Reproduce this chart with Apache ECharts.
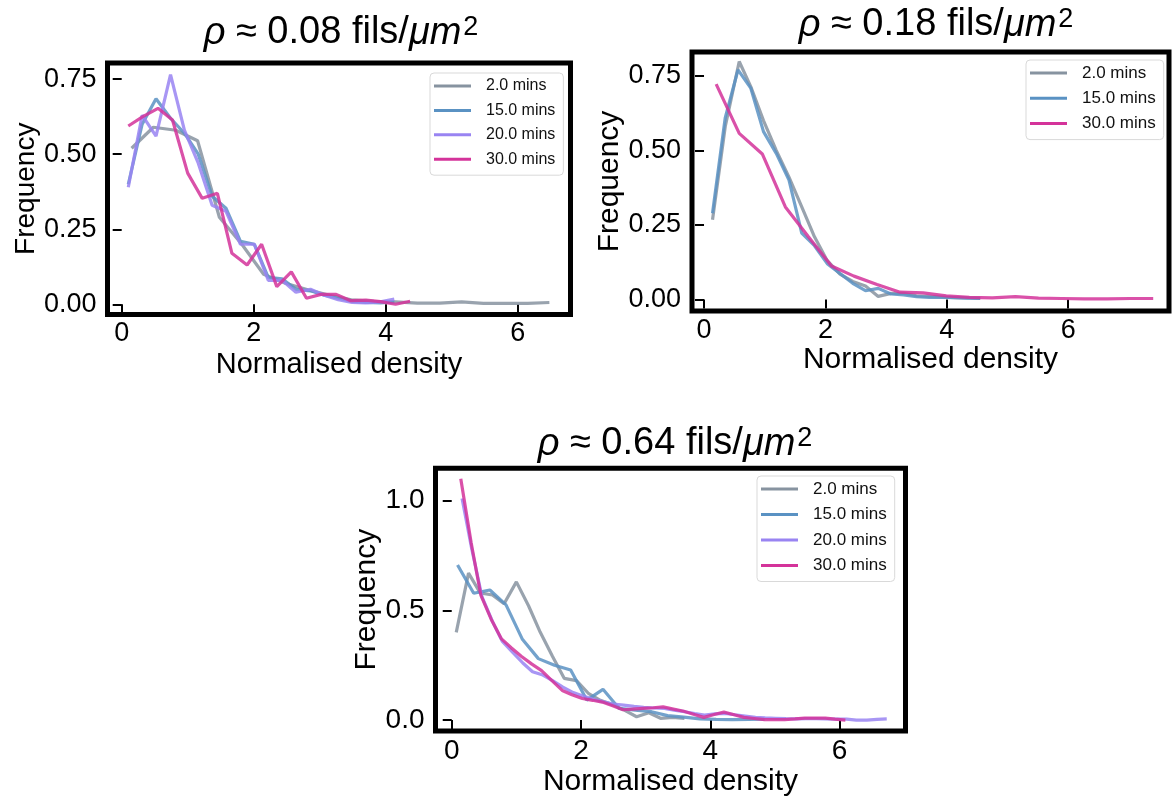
<!DOCTYPE html>
<html>
<head>
<meta charset="utf-8">
<script src="https://cdn.jsdelivr.net/npm/echarts@6/dist/echarts.min.js"></script>
<style>
  html, body { margin: 0; padding: 0; background: #fff; }
  #chart { width: 1172px; height: 805px; }
</style>
</head>
<body>
<div id="chart"></div>
<script>
// ---- Panel 1: rho ~ 0.08 fils/um^2 ----
const p1_x_2 = [0.15,0.48,0.82,1.15,1.48,1.82,2.15,2.48,2.82,3.15,3.48,3.82,4.15,4.48,4.82,5.15,5.48,5.82,6.15,6.48];
const p1_y_2 = [0.52,0.59,0.58,0.545,0.29,0.20,0.10,0.07,0.048,0.03,0.015,0.01,0.008,0.004,0.004,0.008,0.003,0.003,0.003,0.006];
const p1_x_15 = [0.10,0.31,0.52,0.74,0.95,1.16,1.37,1.58,1.80,2.01,2.22,2.43,2.64,2.86,3.07,3.28,3.49,3.70,3.92,4.13];
const p1_y_15 = [0.40,0.60,0.685,0.62,0.57,0.50,0.36,0.32,0.21,0.20,0.09,0.085,0.05,0.045,0.03,0.02,0.01,0.006,0.005,0.008];
const p1_x_20 = [0.10,0.31,0.52,0.74,0.95,1.16,1.37,1.58,1.80,2.01,2.22,2.43,2.64,2.86,3.07,3.28,3.49,3.70,3.92,4.13];
const p1_y_20 = [0.39,0.63,0.56,0.765,0.58,0.47,0.33,0.31,0.20,0.20,0.08,0.08,0.04,0.05,0.03,0.015,0.006,0.005,0.008,0.017];
const p1_x_30 = [0.10,0.32,0.55,0.77,1.00,1.22,1.45,1.67,1.90,2.12,2.35,2.57,2.80,3.02,3.25,3.47,3.70,3.92,4.15,4.37];
const p1_y_30 = [0.594,0.625,0.653,0.614,0.437,0.353,0.37,0.17,0.131,0.20,0.059,0.108,0.02,0.033,0.033,0.012,0.014,0.009,0.0,0.01];

// ---- Panel 2: rho ~ 0.18 fils/um^2 ----
const p2_x_2 = [0.14,0.35,0.58,0.77,0.98,1.19,1.40,1.61,1.82,2.03,2.24,2.45,2.66,2.87,3.08,3.29,3.50,3.71,3.92,4.13,4.34,4.55];
const p2_y_2 = [0.267,0.58,0.798,0.714,0.60,0.50,0.41,0.31,0.21,0.13,0.085,0.06,0.045,0.01,0.02,0.02,0.012,0.01,0.008,0.006,0.005,0.004];
const p2_x_15 = [0.14,0.35,0.56,0.77,0.98,1.19,1.40,1.61,1.82,2.03,2.24,2.45,2.66,2.87,3.08,3.29,3.50,3.71,3.92,4.13,4.34,4.55];
const p2_y_15 = [0.289,0.61,0.77,0.709,0.563,0.49,0.40,0.222,0.18,0.12,0.087,0.054,0.029,0.037,0.018,0.015,0.009,0.007,0.007,0.006,0.004,0.003];
const p2_x_30 = [0.20,0.58,0.96,1.34,1.72,2.10,2.47,2.85,3.23,3.61,3.99,4.37,4.75,5.13,5.51,5.89,6.26,6.64,7.02,7.40];
const p2_y_30 = [0.722,0.557,0.488,0.31,0.21,0.112,0.078,0.05,0.024,0.022,0.012,0.007,0.005,0.009,0.004,0.003,0.002,0.002,0.003,0.003];

// ---- Panel 3: rho ~ 0.64 fils/um^2 ----
const p3_x_2 = [0.07,0.26,0.44,0.63,0.81,1.00,1.19,1.37,1.56,1.74,1.93,2.12,2.30,2.49,2.67,2.86,3.05,3.23,3.42,3.60];
const p3_y_2 = [0.40,0.67,0.58,0.57,0.53,0.63,0.52,0.40,0.29,0.19,0.18,0.12,0.09,0.07,0.045,0.015,0.033,0.008,0.012,0.008];
const p3_x_15 = [0.09,0.34,0.59,0.84,1.09,1.34,1.59,1.84,2.09,2.34,2.59,2.84,3.09,3.34,3.59,3.84,4.09,4.34,4.59,4.84];
const p3_y_15 = [0.707,0.578,0.593,0.525,0.37,0.28,0.25,0.228,0.091,0.14,0.053,0.045,0.038,0.02,0.013,0.005,0.003,0.002,0.003,0.004];
const p3_x_20 = [0.16,0.31,0.47,0.63,0.78,0.94,1.10,1.25,1.41,1.56,1.72,1.88,2.03,2.19,2.35,2.50,2.66,2.82,2.97,3.13,3.29,3.44,3.60,3.76,3.91,4.07,4.23,4.38,4.54,4.70,4.85,5.01,5.17,5.32,5.48,5.64,5.79,5.95,6.11,6.26,6.42,6.58,6.73];
const p3_y_20 = [1.01,0.78,0.56,0.45,0.36,0.31,0.26,0.22,0.205,0.18,0.15,0.125,0.11,0.095,0.083,0.073,0.068,0.062,0.058,0.055,0.053,0.045,0.038,0.03,0.023,0.028,0.03,0.024,0.018,0.012,0.01,0.008,0.006,0.005,0.006,0.006,0.005,0.004,0.004,0.0,0.0,0.003,0.005];
const p3_x_30 = [0.14,0.30,0.45,0.61,0.77,0.92,1.08,1.24,1.39,1.55,1.71,1.86,2.02,2.18,2.33,2.49,2.65,2.80,2.96,3.12,3.27,3.43,3.59,3.74,3.90,4.06,4.21,4.37,4.52,4.68,4.84,4.99,5.15,5.31,5.46,5.62,5.78,5.93,6.09];
const p3_y_30 = [1.10,0.81,0.57,0.46,0.37,0.33,0.29,0.255,0.225,0.18,0.135,0.115,0.098,0.09,0.082,0.065,0.047,0.05,0.053,0.056,0.06,0.05,0.04,0.026,0.012,0.025,0.036,0.024,0.012,0.007,0.002,0.002,0.002,0.005,0.009,0.009,0.009,0.004,0.0];

// Tick labels
const xTicks = [0, 2, 4, 6];
const yTicksSmall = [0, 0.25, 0.5, 0.75];
const yTicksLarge = [0, 0.5, 1.0];

const seriesColors = {
  '2.0 mins': '#8793a0',
  '15.0 mins': '#5a92c3',
  '20.0 mins': '#9984f2',
  '30.0 mins': '#d4339a'
};

const FONT = '"Liberation Sans", Arial, Helvetica, sans-serif';

function lineSeries(name, xs, ys, idx) {
  return {
    type: 'line',
    name: name,
    xAxisIndex: idx,
    yAxisIndex: idx,
    data: xs.map((x, i) => [x, ys[i]]),
    showSymbol: false,
    symbol: 'none',
    animation: false,
    itemStyle: { color: seriesColors[name] },
    lineStyle: { width: 3.2, opacity: 0.85, color: seriesColors[name] },
    emphasis: { disabled: true }
  };
}

function xAxis(idx, min, max, fs, nfs, gap) {
  return {
    type: 'value', gridIndex: idx, min: min, max: max,
    name: 'Normalised density', nameLocation: 'middle', nameGap: gap,
    nameTextStyle: { fontSize: nfs, fontFamily: FONT, color: '#000' },
    axisLine: { show: false },
    splitLine: { show: false },
    axisTick: { show: true, inside: false, length: 9, customValues: xTicks,
                lineStyle: { color: '#000', width: 2 } },
    axisLabel: { customValues: xTicks, fontSize: fs, fontFamily: FONT, color: '#000',
                 margin: 6, formatter: v => String(v) }
  };
}

function yAxis(idx, min, max, ticks, digits, fs, nfs, gap) {
  return {
    type: 'value', gridIndex: idx, min: min, max: max,
    name: 'Frequency', nameLocation: 'middle', nameGap: gap, nameRotate: 90,
    nameTextStyle: { fontSize: nfs, fontFamily: FONT, color: '#000' },
    axisLine: { show: false },
    splitLine: { show: false },
    axisTick: { show: true, inside: false, length: 9, customValues: ticks,
                lineStyle: { color: '#000', width: 2 } },
    axisLabel: { customValues: ticks, fontSize: fs, fontFamily: FONT, color: '#000',
                 margin: 11, formatter: v => v.toFixed(digits) }
  };
}

function titleFor(text, cx, top, fs) {
  return {
    text: '{i|ρ} ≈ ' + text + ' fils/{i|μm}{s|2}',
    left: cx, top: top, textAlign: 'center',
    textStyle: {
      fontSize: fs, fontFamily: FONT, fontWeight: 'normal', color: '#000',
      rich: {
        i: { fontSize: fs, fontFamily: FONT, fontStyle: 'italic', color: '#000' },
        s: { fontSize: Math.round(fs * 0.7), fontFamily: FONT, color: '#000', verticalAlign: 'top', padding: [0, 0, 0, 2] }
      }
    }
  };
}

function legendFor(names, left, top, fs, gap, padRight) {
  return {
    data: names, orient: 'vertical', left: left, top: top,
    icon: 'rect', itemWidth: 37, itemHeight: 3, itemGap: gap,
    padding: [4, padRight, 7, 4],
    backgroundColor: 'rgba(255,255,255,0.85)', borderColor: '#d9d9d9', borderWidth: 1, borderRadius: 4,
    selectedMode: false,
    textStyle: { fontSize: fs, lineHeight: 18, fontFamily: FONT, color: '#111', padding: [0, 0, 0, 10] }
  };
}

const gridStyle = { show: true, borderColor: '#000', borderWidth: 5, backgroundColor: '#fff', containLabel: false };

const option = {
  backgroundColor: '#fff',
  animation: false,
  title: [
    titleFor('0.08', 336, 9, 38),
    titleFor('0.18', 931, 1, 38),
    titleFor('0.64', 670, 420, 38)
  ],
  legend: [
    legendFor(['2.0 mins', '15.0 mins', '20.0 mins', '30.0 mins'], 430, 73, 16, 6.4, 8),
    legendFor(['2.0 mins', '15.0 mins', '30.0 mins'], 1026, 60, 17, 7.3, 8),
    legendFor(['2.0 mins', '15.0 mins', '20.0 mins', '30.0 mins'], 757, 476, 17, 7.5, 8)
  ],
  grid: [
    Object.assign({ left: 107.5, top: 63, width: 463, height: 251.5 }, gridStyle),
    Object.assign({ left: 692, top: 52, width: 477, height: 259 }, gridStyle),
    Object.assign({ left: 435.5, top: 468.3, width: 470, height: 262.7 }, gridStyle)
  ],
  xAxis: [
    xAxis(0, -0.215, 6.80, 27, 29, 36),
    xAxis(1, -0.198, 7.66, 27, 30, 32),
    xAxis(2, -0.251, 7.02, 28, 30, 36)
  ],
  yAxis: [
    yAxis(0, -0.034, 0.804, yTicksSmall, 2, 27, 28, 64),
    yAxis(1, -0.039, 0.83, yTicksSmall, 2, 27, 30, 64),
    yAxis(2, -0.050, 1.148, yTicksLarge, 1, 28, 30, 52)
  ],
  series: [
    lineSeries('2.0 mins', p1_x_2, p1_y_2, 0),
    lineSeries('15.0 mins', p1_x_15, p1_y_15, 0),
    lineSeries('20.0 mins', p1_x_20, p1_y_20, 0),
    lineSeries('30.0 mins', p1_x_30, p1_y_30, 0),
    lineSeries('2.0 mins', p2_x_2, p2_y_2, 1),
    lineSeries('15.0 mins', p2_x_15, p2_y_15, 1),
    lineSeries('30.0 mins', p2_x_30, p2_y_30, 1),
    lineSeries('2.0 mins', p3_x_2, p3_y_2, 2),
    lineSeries('15.0 mins', p3_x_15, p3_y_15, 2),
    lineSeries('20.0 mins', p3_x_20, p3_y_20, 2),
    lineSeries('30.0 mins', p3_x_30, p3_y_30, 2)
  ]
};

const chart = echarts.init(document.getElementById('chart'), null, { renderer: 'canvas' });
chart.setOption(option);
</script>
</body>
</html>
